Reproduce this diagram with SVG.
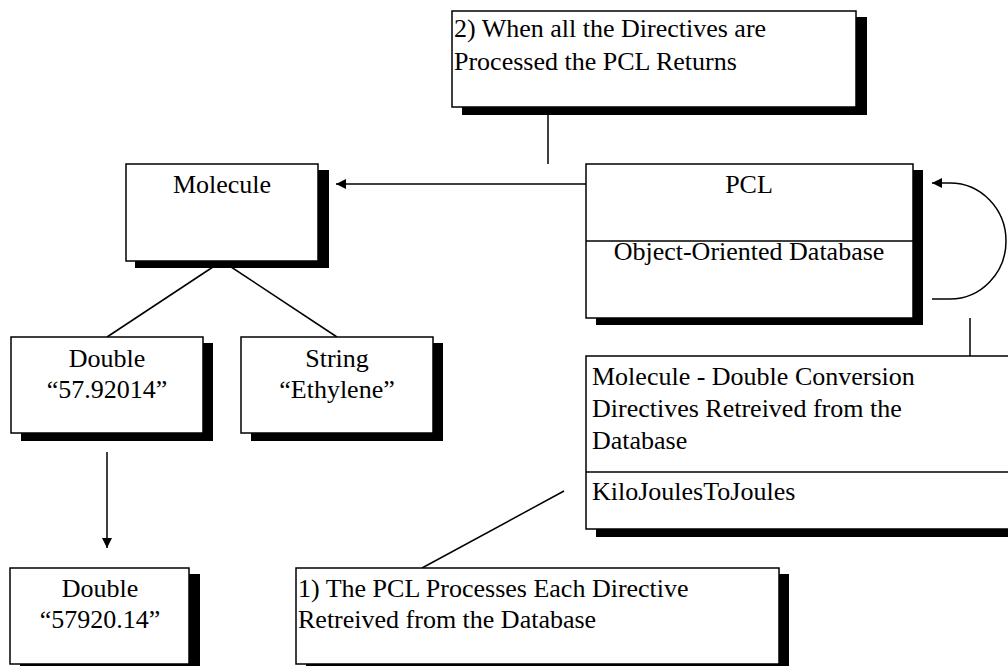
<svg xmlns="http://www.w3.org/2000/svg" width="1008" height="666" viewBox="0 0 1008 666">
  <defs>
    <marker id="arrow" viewBox="0 0 10 10" refX="10" refY="5" markerWidth="10" markerHeight="10" markerUnits="userSpaceOnUse" orient="auto">
      <path d="M0,0 L10,5 L0,10 Z" fill="#000"/>
    </marker>
  </defs>
  <style>
    .box { fill: #fff; stroke: #000; stroke-width: 1.5; }
    .shadow { fill: #000; }
    .line { fill: none; stroke: #000; stroke-width: 1.5; }
    .t { font-family: 'Liberation Serif', 'Times New Roman', serif; font-size: 26px; fill: #000; }
    .c { text-anchor: middle; }
  </style>
  <rect width="1008" height="666" fill="#fff"/>

  <!-- connectors -->
  <g id="connectors">
    <line class="line" x1="548" y1="107" x2="548" y2="164"/>
    <line class="line" x1="586" y1="184" x2="336" y2="184" marker-end="url(#arrow)"/>
    <path class="line" d="M932,299 L950,299 A56,58 0 0 0 950,183 L932,183" marker-end="url(#arrow)"/>
    <line class="line" x1="970" y1="318" x2="970" y2="356"/>
    <line class="line" x1="222" y1="261" x2="107" y2="337"/>
    <line class="line" x1="222" y1="261" x2="337" y2="337"/>
    <line class="line" x1="107" y1="452" x2="107" y2="548" marker-end="url(#arrow)"/>
    <line class="line" x1="422" y1="568" x2="564" y2="491"/>
  </g>

  <!-- note: step 2 -->
  <g id="note2" class="t">
    <rect class="shadow" x="462" y="17" width="405" height="98"/>
    <rect class="box" x="452" y="11" width="404" height="96"/>
    <text x="454" y="37">2) When all the Directives are</text>
    <text x="454" y="70">Processed the PCL Returns</text>
  </g>

  <!-- Molecule -->
  <g id="molecule" class="t">
    <rect class="shadow" x="135" y="170" width="194" height="98"/>
    <rect class="box" x="126" y="164" width="192" height="97"/>
    <text class="c" x="222" y="193">Molecule</text>
  </g>

  <!-- PCL -->
  <g id="pcl" class="t">
    <rect class="shadow" x="596" y="170" width="327" height="155"/>
    <rect class="box" x="586" y="164" width="327" height="154"/>
    <line class="line" x1="586" y1="241" x2="913" y2="241"/>
    <text class="c" x="749" y="193">PCL</text>
    <text class="c" x="749" y="260">Object-Oriented Database</text>
  </g>

  <!-- conversion directives -->
  <g id="directives" class="t">
    <rect class="shadow" x="596" y="362" width="420" height="175"/>
    <rect class="box" x="586" y="356" width="430" height="173"/>
    <line class="line" x1="586" y1="472" x2="1016" y2="472"/>
    <text x="592" y="385">Molecule - Double Conversion</text>
    <text x="592" y="417">Directives Retreived from the</text>
    <text x="592" y="449">Database</text>
    <text x="592" y="500">KiloJoulesToJoules</text>
  </g>

  <!-- Double (before) -->
  <g id="double1" class="t">
    <rect class="shadow" x="21" y="343" width="192" height="98"/>
    <rect class="box" x="11" y="337" width="192" height="96"/>
    <text class="c" x="107" y="367">Double</text>
    <text class="c" x="107" y="398">“57.92014”</text>
  </g>

  <!-- String -->
  <g id="string" class="t">
    <rect class="shadow" x="251" y="343" width="192" height="98"/>
    <rect class="box" x="241" y="337" width="192" height="96"/>
    <text class="c" x="337" y="367">String</text>
    <text class="c" x="337" y="398">“Ethylene”</text>
  </g>

  <!-- Double (after) -->
  <g id="double2" class="t">
    <rect class="shadow" x="20" y="574" width="180" height="98"/>
    <rect class="box" x="10" y="568" width="179" height="96"/>
    <text class="c" x="100" y="597">Double</text>
    <text class="c" x="100" y="628">“57920.14”</text>
  </g>

  <!-- note: step 1 -->
  <g id="note1" class="t">
    <rect class="shadow" x="306" y="574" width="483" height="98"/>
    <rect class="box" x="296" y="568" width="483" height="96"/>
    <text x="298" y="597">1) The PCL Processes Each Directive</text>
    <text x="298" y="628">Retreived from the Database</text>
  </g>
</svg>
